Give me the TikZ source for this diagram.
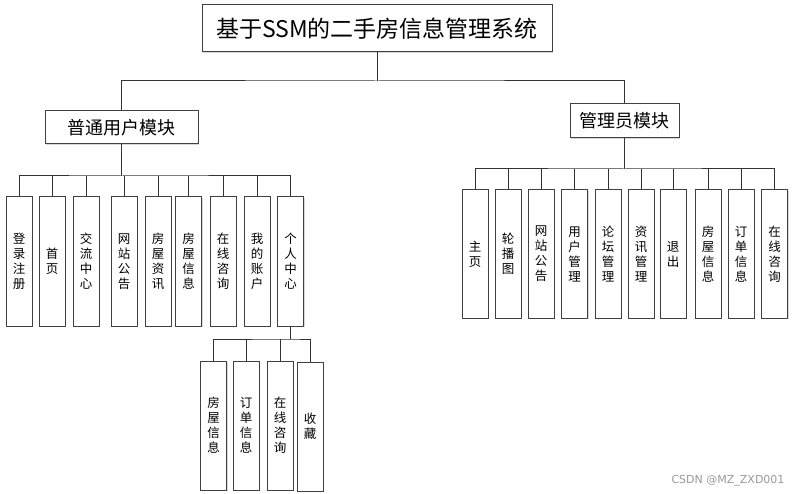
\documentclass[tikz,border=0pt]{standalone}
\usepackage{fontspec}
\setmainfont{Noto Sans CJK SC}
\newfontfamily\wmfont{DejaVu Sans}
\usetikzlibrary{shadows}
\begin{document}
\begin{tikzpicture}[x=1pt,y=-1pt,
  boxbase/.style={draw=black!75, line width=1pt, fill=white, inner sep=0pt,
    drop shadow={shadow xshift=1.2pt, shadow yshift=-1.2pt, fill=black!30, opacity=0.5}},
  titlebox/.style={boxbase, minimum width=350pt, minimum height=47pt, font=\fontsize{23}{25}\selectfont},
  modbox/.style={boxbase, minimum height=33pt, font=\fontsize{18}{20}\selectfont},
  leafbox/.style={boxbase, minimum width=26pt, minimum height=129pt, align=center,
    font=\fontsize{12.5}{15}\selectfont},
  link/.style={draw=black!80, line width=1pt},
  wm/.style={text=black!40, font=\wmfont\fontsize{11}{12}\selectfont}]
\useasboundingbox (0,0) rectangle (794,494);

% title and modules
\node[titlebox] (title) at (377,28.5) {基于SSM的二手房信息管理系统};
\node[modbox, minimum width=153pt] (mU) at (121.5,127.5) {普通用户模块};
\node[modbox, minimum width=109pt, minimum height=34pt] (mA) at (624.5,121) {管理员模块};

\coordinate (tb) at (377,81);
\draw[link] (title.south) -- (tb);
\draw[link] (mU.north) |- (tb) -| (mA.north);

% user leaves
\node[leafbox] (u1) at (19,261.5) {登\\录\\注\\册};
\node[leafbox] (u2) at (52,261.5) {首\\页};
\node[leafbox] (u3) at (86,261.5) {交\\流\\中\\心};
\node[leafbox] (u4) at (124,261.5) {网\\站\\公\\告};
\node[leafbox] (u5) at (158,261.5) {房\\屋\\资\\讯};
\node[leafbox] (u6) at (188.5,261.5) {房\\屋\\信\\息};
\node[leafbox] (u7) at (223,261.5) {在\\线\\咨\\询};
\node[leafbox] (u8) at (257,261.5) {我\\的\\账\\户};
\node[leafbox] (u9) at (290.5,261.5) {个\\人\\中\\心};

\coordinate (ub) at (121.5,176);
\draw[link] (mU.south) -- (ub);
\draw[link] (u1.north) |- (ub) -| (u9.north);
\foreach \i in {2,...,8} \draw[link] (u\i.north) -- (u\i.north |- ub);

% personal centre sub leaves
\node[leafbox] (p1) at (213.5,425.5) {房\\屋\\信\\息};
\node[leafbox] (p2) at (246,425.5) {订\\单\\信\\息};
\node[leafbox] (p3) at (280,425.5) {在\\线\\咨\\询};
\node[leafbox] (p4) at (310,426.5) {收\\藏};

\coordinate (pb) at (290.5,339);
\draw[link] (u9.south) -- (pb);
\draw[link] (p1.north) |- (pb) -| (p4.north);
\foreach \i in {2,3} \draw[link] (p\i.north) -- (p\i.north |- pb);

% admin leaves
\node[leafbox, minimum height=128pt] (a1) at (475,254) {主\\页};
\node[leafbox, minimum height=128pt] (a2) at (508,254) {轮\\播\\图};
\node[leafbox, minimum height=128pt] (a3) at (541,254) {网\\站\\公\\告};
\node[leafbox, minimum height=128pt] (a4) at (574.5,254) {用\\户\\管\\理};
\node[leafbox, minimum height=128pt] (a5) at (608,254) {论\\坛\\管\\理};
\node[leafbox, minimum height=128pt] (a6) at (641,254) {资\\讯\\管\\理};
\node[leafbox, minimum height=128pt] (a7) at (673,254) {退\\出};
\node[leafbox, minimum height=128pt] (a8) at (708,254) {房\\屋\\信\\息};
\node[leafbox, minimum height=128pt] (a9) at (741,254) {订\\单\\信\\息};
\node[leafbox, minimum height=128pt] (a10) at (774.5,254) {在\\线\\咨\\询};

\coordinate (ab) at (624.5,169);
\draw[link] (mA.south) -- (ab);
\draw[link] (a1.north) |- (ab) -| (a10.north);
\foreach \i in {2,...,9} \draw[link] (a\i.north) -- (a\i.north |- ab);

% watermark
\node[wm, anchor=east] (wmk) at (788,481) {CSDN @MZ\_ZXD001};
\end{tikzpicture}
\end{document}
